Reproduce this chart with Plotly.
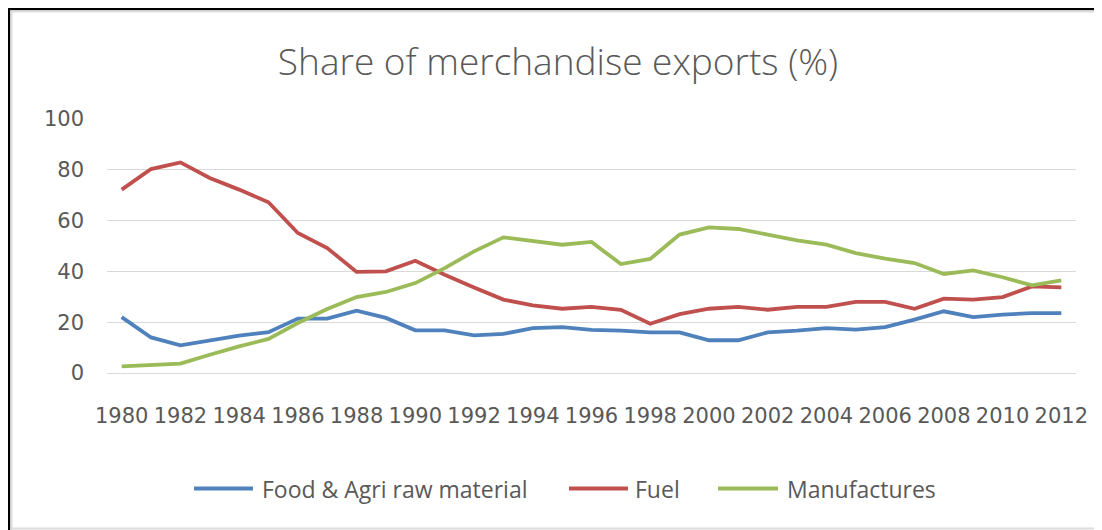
import plotly.graph_objects as go

years = list(range(1980, 2013))
food_agri = [22.0, 14.0, 10.9, 12.9, 14.7, 16.1, 21.4, 21.4, 24.5, 21.7, 16.8, 16.8,
             14.8, 15.4, 17.7, 18.1, 17.0, 16.7, 16.0, 16.0, 12.9, 12.9, 16.0, 16.7,
             17.7, 17.1, 18.1, 21.0, 24.3, 22.0, 23.0, 23.6, 23.6]
fuel = [72.2, 80.3, 82.9, 76.8, 72.2, 67.2, 55.1, 49.2, 39.8, 40.0, 44.2, 38.7,
        33.7, 28.9, 26.6, 25.3, 26.0, 24.9, 19.4, 23.2, 25.3, 26.0, 24.9, 26.0,
        26.0, 28.0, 28.0, 25.3, 29.3, 28.9, 29.9, 34.1, 33.7]
manufactures = [2.6, 3.0, 3.7, 7.2, 10.5, 13.4, 19.7, 25.2, 29.9, 31.9, 35.4, 41.3,
                47.9, 53.4, 52.1, 50.5, 51.6, 42.9, 44.9, 54.5, 57.3, 56.7, 54.5, 52.2,
                50.5, 47.2, 45.0, 43.3, 39.0, 40.4, 37.7, 34.5, 36.5]
tick_years = list(range(1980, 2013, 2))
tick_labels = [str(y) for y in tick_years]
y_ticks = [0, 20, 40, 60, 80, 100]

series_names = ["Food & Agri raw material", "Fuel", "Manufactures"]
series_values = [food_agri, fuel, manufactures]
series_colors = ["#4F81BD", "#C0504D", "#9BBB59"]

fig = go.Figure()
for name, vals, color in zip(series_names, series_values, series_colors):
    fig.add_trace(go.Scatter(x=years, y=vals, mode="lines", name=name,
                             line=dict(color=color, width=3.8), showlegend=False))

# page has an 8px body margin: figure coords = page coords - 8
OFF = 8
W, H = 1094, 522
L, R, T, B = 99, 26, 111, 157
pw, ph = W - L - R, H - T - B


def px(xp):
    return (xp - OFF - L) / pw


def py(yp):
    return (H - B - (yp - OFF)) / ph


shapes = [
    # outer black frame (top and left)
    dict(type="line", xref="paper", yref="paper", x0=px(8), x1=px(1102), y0=py(9), y1=py(9),
         line=dict(color="black", width=2.5)),
    dict(type="line", xref="paper", yref="paper", x0=px(9), x1=px(9), y0=py(8), y1=py(530),
         line=dict(color="black", width=2.5)),
    # light inner border
    dict(type="line", xref="paper", yref="paper", x0=px(10.5), x1=px(1102), y0=py(11.5), y1=py(11.5),
         line=dict(color="#DCDCDC", width=2)),
    dict(type="line", xref="paper", yref="paper", x0=px(11.5), x1=px(11.5), y0=py(10.5), y1=py(530),
         line=dict(color="#DCDCDC", width=2)),
    dict(type="line", xref="paper", yref="paper", x0=px(10.5), x1=px(1102), y0=py(528.5), y1=py(528.5),
         line=dict(color="#DCDCDC", width=2)),
]

# legend drawn like the original (long line samples, left-aligned labels)
legend_line_x = [(194, 253), (569, 628), (718, 778)]
legend_text_x = [260, 633, 785]
legend_y = 488.5
annotations = []
for (x0, x1), tx, name, color in zip(legend_line_x, legend_text_x, series_names, series_colors):
    shapes.append(dict(type="line", xref="paper", yref="paper", x0=px(x0), x1=px(x1),
                       y0=py(legend_y), y1=py(legend_y), line=dict(color=color, width=3.8)))
    annotations.append(dict(text=name, xref="paper", yref="paper", x=px(tx), y=py(legend_y),
                            xanchor="left", yanchor="middle", showarrow=False,
                            font=dict(family="Open Sans", size=23, color="#595959")))

fig.update_layout(
    width=W, height=H,
    margin=dict(l=L, r=R, t=T, b=B, pad=0),
    paper_bgcolor="white", plot_bgcolor="white",
    title=dict(text="Share of merchandise exports (%)", x=(558 - OFF) / W, xanchor="center",
               y=1 - (62 - OFF) / H, yanchor="middle",
               font=dict(family="Open Sans", size=37, color="#595959", weight=300)),
    showlegend=False,
    shapes=shapes,
    annotations=annotations,
)
fig.update_xaxes(range=[1979.5, 2012.5], tickmode="array", tickvals=tick_years,
                 ticktext=tick_labels, showgrid=False, showline=True, linecolor="#D9D9D9",
                 linewidth=1, ticks="", zeroline=False, ticklabelstandoff=24,
                 tickfont=dict(family="DejaVu Sans", size=21, color="#595959"))
fig.update_yaxes(range=[0, 100], tickmode="array", tickvals=y_ticks, showgrid=True,
                 gridcolor="#D9D9D9", gridwidth=1, zeroline=False, showline=False,
                 ticks="", ticklabelstandoff=22,
                 tickfont=dict(family="DejaVu Sans", size=21, color="#595959"))

fig.write_html("out.html")
